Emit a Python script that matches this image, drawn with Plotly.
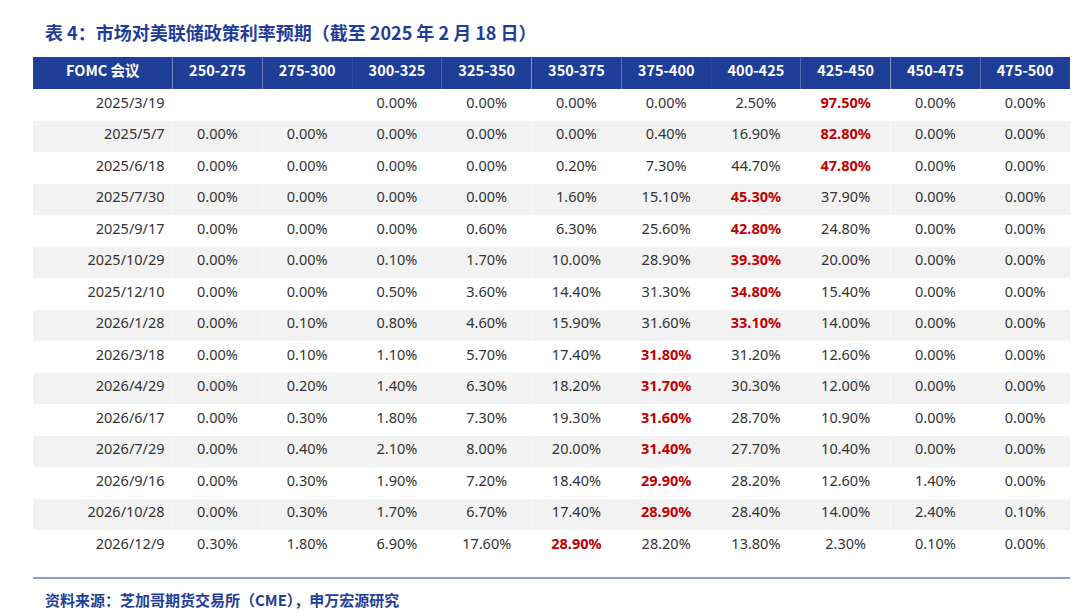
import plotly.graph_objects as go

cols = ["FOMC 会议","250-275","275-300","300-325","325-350","350-375","375-400","400-425","425-450","450-475","475-500"]
dates = ["2025/3/19","2025/5/7","2025/6/18","2025/7/30","2025/9/17","2025/10/29","2025/12/10","2026/1/28","2026/3/18","2026/4/29","2026/6/17","2026/7/29","2026/9/16","2026/10/28","2026/12/9"]
r250 = [None,0,0,0,0,0,0,0,0,0,0,0,0,0,0.3]
r275 = [None,0,0,0,0,0,0,0.1,0.1,0.2,0.3,0.4,0.3,0.3,1.8]
r300 = [0,0,0,0,0,0.1,0.5,0.8,1.1,1.4,1.8,2.1,1.9,1.7,6.9]
r325 = [0,0,0,0,0.6,1.7,3.6,4.6,5.7,6.3,7.3,8.0,7.2,6.7,17.6]
r350 = [0,0,0.2,1.6,6.3,10.0,14.4,15.9,17.4,18.2,19.3,20.0,18.4,17.4,28.9]
r375 = [0,0.4,7.3,15.1,25.6,28.9,31.3,31.6,31.8,31.7,31.6,31.4,29.9,28.9,28.2]
r400 = [2.5,16.9,44.7,45.3,42.8,39.3,34.8,33.1,31.2,30.3,28.7,27.7,28.2,28.4,13.8]
r425 = [97.5,82.8,47.8,37.9,24.8,20.0,15.4,14.0,12.6,12.0,10.9,10.4,12.6,14.0,2.3]
r450 = [0,0,0,0,0,0,0,0,0,0,0,0,1.4,2.4,0.1]
r475 = [0,0,0,0,0,0,0,0,0,0,0,0,0,0.1,0]
series = [r250,r275,r300,r325,r350,r375,r400,r425,r450,r475]

n = len(dates)
rowmax = [max(s[i] for s in series if s[i] is not None) for i in range(n)]
values = [dates]
bold_values = [[""]*n]
for s in series:
    txt, btxt = [], []
    for i, v in enumerate(s):
        if v is None:
            txt.append(""); btxt.append("")
        elif v == rowmax[i]:
            txt.append(""); btxt.append(f"{v:.2f}%")
        else:
            txt.append(f"{v:.2f}%"); btxt.append("")
    values.append(txt); bold_values.append(btxt)

fills = ["#FFFFFF" if i % 2 == 0 else "#F2F2F2" for i in range(n)]
dom = dict(x=[25/1080, 1062/1080], y=[0, 1-49/612])
HH, CH = 32, 31.5

fig = go.Figure()
fig.add_trace(go.Table(
    columnwidth=[140] + [90]*10,
    header=dict(values=cols, fill_color="#1F3E97",
                font=dict(color="white", size=14.5, family="Noto Sans CJK SC", weight="bold"),
                align="center", height=HH, line=dict(width=0)),
    cells=dict(values=values, fill_color=[fills]*11,
               font=dict(color="#333333", size=14.5, family="Noto Sans"),
               align=["right"] + ["center"]*10, height=CH, line=dict(width=0)),
    domain=dom,
))
fig.add_trace(go.Table(
    columnwidth=[140] + [90]*10,
    header=dict(values=[""]*11, fill_color="rgba(0,0,0,0)", height=HH, line=dict(width=0)),
    cells=dict(values=bold_values, fill_color="rgba(0,0,0,0)",
               font=dict(color="#C00000", size=14.5, family="Noto Sans", weight="bold"),
               align=["right"] + ["center"]*10, height=CH, line=dict(width=0)),
    domain=dom,
))
fig.add_annotation(text="<b>表 4：市场对美联储政策利率预期（截至 2025 年 2 月 18 日）</b>", x=35/1080, y=1-24/612,
                   xref="paper", yref="paper", xanchor="left", yanchor="middle", showarrow=False,
                   font=dict(size=18, color="#1F3E97", family="Noto Sans CJK SC"))
fig.add_annotation(text="<b>资料来源：芝加哥期货交易所（CME），申万宏源研究</b>", x=35/1080, y=1-591/612,
                   xref="paper", yref="paper", xanchor="left", yanchor="middle", showarrow=False,
                   font=dict(size=15, color="#1F3E97", family="Noto Sans CJK SC"))
fig.add_shape(type="line", x0=25/1080, x1=1062/1080, y0=1-570/612, y1=1-570/612, xref="paper", yref="paper",
              line=dict(color="#1F3E97", width=1))
fig.update_layout(width=1080, height=612, margin=dict(l=0, r=0, t=0, b=0), paper_bgcolor="white")
fig.write_html("out.html")
